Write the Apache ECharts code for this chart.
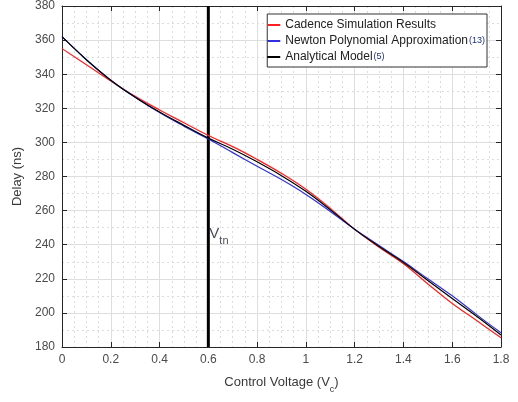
<!DOCTYPE html>
<html><head><meta charset="utf-8">
<script src="https://cdn.jsdelivr.net/npm/echarts@6/dist/echarts.min.js"></script>
<style>html,body{margin:0;padding:0;background:#fff}#c{width:518px;height:402px}</style>
</head><body><div id="c"></div>
<script>
const voltage    = [0, 0.1, 0.2, 0.3, 0.4, 0.5, 0.6, 0.7, 0.8, 0.9, 1.0, 1.1, 1.2, 1.3, 1.4, 1.5, 1.6, 1.7, 1.8];
const cadence    = [355, 345.5, 336, 327, 319, 311.5, 304, 297.5, 290, 281.8, 272.5, 261.3, 249, 238.5, 228.8, 217, 205.5, 195.5, 185.4];
const newton     = [362, 348.5, 336.5, 326.5, 317.5, 309.5, 302, 294, 286, 278.2, 269.5, 259.5, 249, 239.5, 230.1, 220, 210, 199, 188.3];
const analytical = [362, 348.5, 336.5, 326.5, 317.8, 310, 302.5, 296, 288.6, 280.5, 271.3, 260.5, 249, 239, 229.6, 219, 208.4, 198, 187];
const seriesNames = ['Cadence Simulation Results', 'Newton Polynomial Approximation', 'Analytical Model'];
const seriesRefs  = ['', '(13)', '(5)'];
const vtnX = 0.6;
const vtnLabelY = 245.5;

const pair = (xs, ys) => xs.map((x, i) => [x, ys[i]]);
const chart = echarts.init(document.getElementById('c'));
const axisCol = '#262626';
const lblCol = '#4a4a4a';
const font = 'Liberation Sans, Arial, sans-serif';

function xAxisBase(pos) {
  const main = pos === 'bottom';
  return {
    type: 'value', position: pos, min: 0, max: 1.8, interval: 0.2,
    axisLine: { show: true, onZero: false, lineStyle: { color: axisCol, width: 1 } },
    axisTick: { show: true, inside: true, length: 5, lineStyle: { color: axisCol } },
    minorTick: { show: main, splitNumber: 4, length: 0, lineStyle: { color: 'rgba(0,0,0,0)' } },
    splitLine: { show: main, lineStyle: { color: '#dedede', width: 1 } },
    minorSplitLine: { show: main, lineStyle: { color: '#dcdcdc', width: 1, type: [2, 3] } },
    axisLabel: { show: main, color: lblCol, fontSize: 12, fontFamily: font, margin: 7,
      formatter: v => (Math.round(v * 10) / 10).toString() }
  };
}
function yAxisBase(pos) {
  const main = pos === 'left';
  return {
    type: 'value', position: pos, min: 180, max: 380, interval: 20,
    axisLine: { show: true, onZero: false, lineStyle: { color: axisCol, width: 1 } },
    axisTick: { show: true, inside: true, length: 5, lineStyle: { color: axisCol } },
    minorTick: { show: main, splitNumber: 2, length: 0, lineStyle: { color: 'rgba(0,0,0,0)' } },
    splitLine: { show: main, lineStyle: { color: '#dedede', width: 1 } },
    minorSplitLine: { show: main, lineStyle: { color: '#dcdcdc', width: 1, type: [2, 3] } },
    axisLabel: { show: main, color: lblCol, fontSize: 12, fontFamily: font, margin: 7 }
  };
}

const xb = xAxisBase('bottom');
xb.name = '{n|Control Voltage (V}{s|c}{n|)}';
xb.nameLocation = 'middle';
xb.nameGap = 29;
xb.nameTextStyle = { rich: {
  n: { fontSize: 13, color: '#3a3a3a', fontFamily: font, verticalAlign: 'top', lineHeight: 16 },
  s: { fontSize: 9, color: '#3a3a3a', fontFamily: font, verticalAlign: 'top', lineHeight: 16, padding: [9, 0, 0, 0] }
} };
const yl = yAxisBase('left');
yl.name = 'Delay (ns)';
yl.nameLocation = 'middle';
yl.nameGap = 32;
yl.nameTextStyle = { fontSize: 13, color: '#3a3a3a', fontFamily: font };

const colors = ['#ff2020', '#3030e0', '#000000'];
const dataSets = [cadence, newton, analytical];

const series = seriesNames.map((n, i) => ({
  name: n, type: 'line', data: pair(voltage, dataSets[i]),
  xAxisIndex: 0, yAxisIndex: 0,
  smooth: 0.4, symbol: 'none', showSymbol: false,
  lineStyle: { color: colors[i], width: 1.2 }, itemStyle: { color: colors[i] },
  z: 3 + (i === 1 ? 0 : i), animation: false
}));
series.push({
  name: 'Vtn', type: 'line', data: [[vtnX, 180], [vtnX, 380]],
  xAxisIndex: 0, yAxisIndex: 0, symbol: 'none',
  lineStyle: { color: '#000', width: 3 }, z: 2, animation: false, silent: true
});
series.push({
  name: 'VtnLabel', type: 'scatter', data: [[vtnX, vtnLabelY]], symbolSize: 0,
  xAxisIndex: 0, yAxisIndex: 0, animation: false, silent: true,
  label: { show: true, position: 'right', distance: 1, formatter: '{v|V}{s|tn}',
    rich: {
      v: { fontSize: 15, color: '#1a1a2e', fontFamily: font, verticalAlign: 'top', lineHeight: 18 },
      s: { fontSize: 11, color: '#1a1a2e', fontFamily: font, verticalAlign: 'top', lineHeight: 18, padding: [9, 0, 0, 0] }
    } }
});

chart.setOption({
  backgroundColor: '#ffffff',
  animation: false,
  grid: { left: 62, right: 17, top: 4, bottom: 55, containLabel: false },
  xAxis: [xb, xAxisBase('top')],
  yAxis: [yl, yAxisBase('right')],
  legend: {
    data: seriesNames, orient: 'vertical', right: 31, top: 14,
    backgroundColor: '#fff', borderColor: '#333', borderWidth: 1, borderRadius: 0,
    padding: [5, 2, 4, 0], itemGap: 4, itemWidth: 13, itemHeight: 2,
    icon: 'rect',
    textStyle: { color: '#222', fontSize: 12, fontFamily: font,
      rich: { r: { fontSize: 9, color: '#1f2f7a', fontFamily: font, padding: [0, 0, 0, 1] } } },
    formatter: name => { const k = seriesNames.indexOf(name); return seriesRefs[k] ? name + '{r|' + seriesRefs[k] + '}' : name; }
  },
  series: series
});
</script></body></html>
